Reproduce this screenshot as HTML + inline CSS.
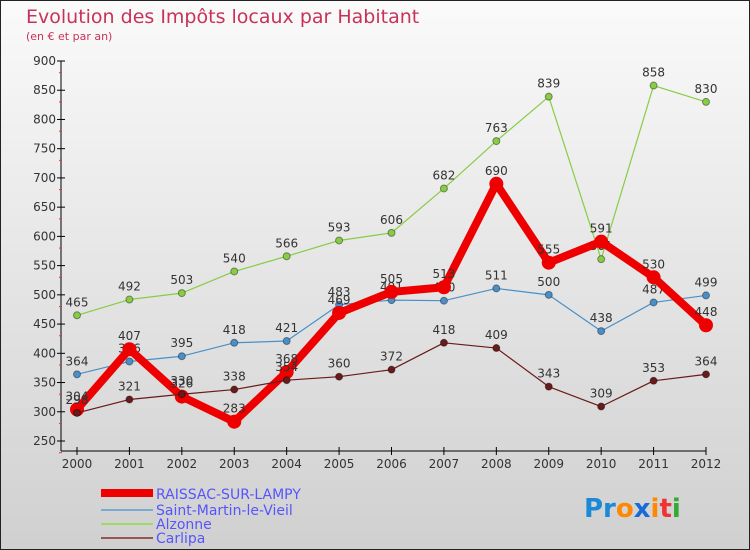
<!DOCTYPE html>
<html><head><meta charset="utf-8"><style>
body{margin:0}
#c{position:relative;width:748px;height:548px;border:1px solid #222;background:linear-gradient(#fafafa,#d0d0d0);font-family:"DejaVu Sans","Liberation Sans",sans-serif;overflow:hidden}
</style></head><body>
<div id="c">
<svg id="s" width="748" height="548" xmlns="http://www.w3.org/2000/svg">
<text x="25" y="22" font-size="19" fill="#c8325a">Evolution des Impôts locaux par Habitant</text>
<text x="25" y="39" font-size="11" fill="#c8325a">(en € et par an)</text>
<g id="axes"></g><g id="series"></g>
<g>
<rect x="100" y="488" width="52" height="8" fill="#e00"/>
<text x="155" y="498" font-size="14" fill="#55f">RAISSAC-SUR-LAMPY</text>
<rect x="100" y="508" width="52" height="2" fill="#7aabcf"/>
<text x="155" y="514" font-size="14" fill="#55f">Saint-Martin-le-Vieil</text>
<rect x="100" y="522" width="52" height="2" fill="#9d6"/>
<text x="155" y="528" font-size="14" fill="#55f">Alzonne</text>
<rect x="100" y="536" width="52" height="2" fill="#955"/>
<text x="155" y="542" font-size="14" fill="#55f">Carlipa</text>
</g>
<text x="583" y="516" font-size="26" font-weight="bold"><tspan fill="#1a8ad8">Pr</tspan><tspan fill="#f80">o</tspan><tspan fill="#1a6ad8">x</tspan><tspan fill="#f80">i</tspan><tspan fill="#e33">t</tspan><tspan fill="#3a3">i</tspan></text>
</svg></div>
<script>
const years=[2000,2001,2002,2003,2004,2005,2006,2007,2008,2009,2010,2011,2012];
const yTicks=[250,300,350,400,450,500,550,600,650,700,750,800,850,900];
const raissac=[304,407,326,283,368,469,505,513,690,555,591,530,448];
const saintMartin=[364,386,395,418,421,483,491,490,511,500,438,487,499];
const alzonne=[465,492,503,540,566,593,606,682,763,839,561,858,830];
const carlipa=[298,321,330,338,354,360,372,418,409,343,309,353,364];
const NS="http://www.w3.org/2000/svg";
const X=i=>76+i*(705-76)/(years.length-1);
const Y=v=>440-(v-250)*380/650;
function mk(t,a,p){const e=document.createElementNS(NS,t);for(const k in a)e.setAttribute(k,a[k]);p.appendChild(e);return e;}
const ax=document.getElementById('axes');
let l=mk('line',{x1:60,y1:60,x2:60,y2:450,stroke:'#000'},ax);

l=mk('line',{x1:60,y1:450,x2:705,y2:450,stroke:'#000'},ax);

yTicks.forEach(v=>{const y=Y(v);
 mk('line',{x1:56,y1:y,x2:64,y2:y,stroke:'#000'},ax);
 mk('line',{x1:58,y1:y+11.7,x2:61,y2:y+11.7,stroke:'#e33'},ax);
 const t=mk('text',{x:55,y:y+4,'font-size':12,'text-anchor':'end',fill:'#333'},ax);t.textContent=v;
 });
years.forEach((yr,i)=>{const x=X(i);
 mk('line',{x1:x,y1:446,x2:x,y2:454,stroke:'#000'},ax);
 const t=mk('text',{x:x,y:467,'font-size':12,'text-anchor':'middle',fill:'#333'},ax);t.textContent=yr;
 });
const sg=document.getElementById('series');
function series(d,col,w,r,name){
 const g=mk('g',{},sg);
 const p=mk('polyline',{points:d.map((v,i)=>X(i)+','+Y(v)).join(' '),fill:'none',stroke:col,'stroke-width':w,'stroke-linejoin':'round'},g);
 
 d.forEach((v,i)=>{const c=mk('circle',{cx:X(i),cy:Y(v),r:r,fill:col,stroke:w>3?'none':'rgba(0,0,0,0.4)'},g);
  
  const t=mk('text',{x:X(i),y:Y(v)-9,'font-size':12,'text-anchor':'middle',fill:'#333'},g);t.textContent=v;
  });
}
series(alzonne,'#8c4',1.2,3.5,'alzonne');
series(saintMartin,'#4a90c8',1.2,3.5,'saint-martin');
series(raissac,'#e00',8,7,'raissac');
series(carlipa,'#6a1a1a',1.2,3.5,'carlipa');
</script></body></html>
